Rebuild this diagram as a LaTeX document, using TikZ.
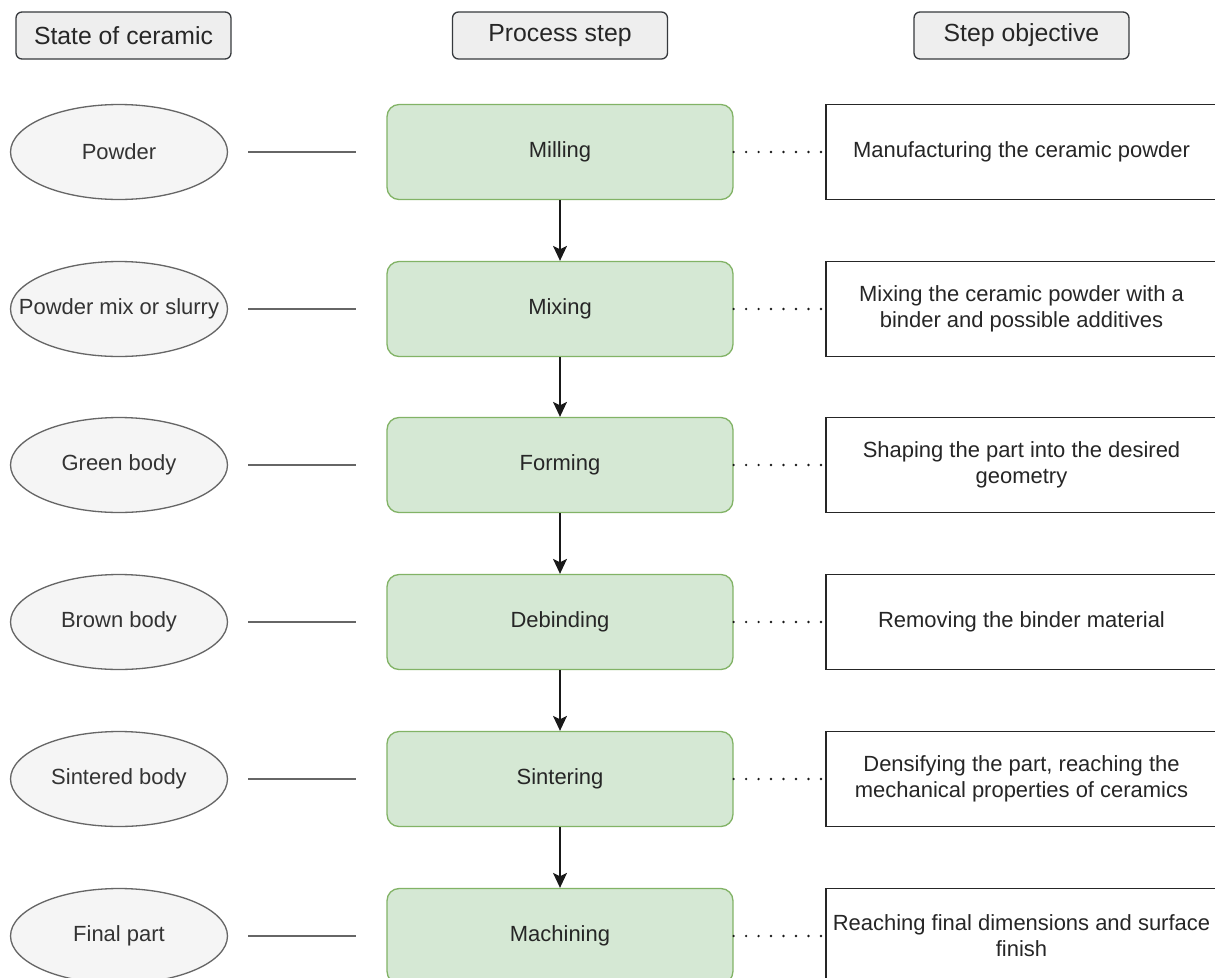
\documentclass[tikz,border=0pt]{standalone}
\usepackage{fontspec}
\setmainfont{Liberation Sans}
\usetikzlibrary{arrows.meta,shapes.geometric}
\definecolor{grisfondo}{HTML}{F5F5F5}
\definecolor{grisborde}{HTML}{666666}
\definecolor{gristexto}{HTML}{333333}
\definecolor{cabfondo}{HTML}{EEEEEE}
\definecolor{cabborde}{HTML}{36393D}
\definecolor{verdefondo}{HTML}{D5E8D4}
\definecolor{verdeborde}{HTML}{82B366}
\tikzset{
  cabecera/.style={draw=cabborde, fill=cabfondo, rounded corners=0.12cm, line width=0.75pt,
    minimum width=4.3cm, minimum height=0.94cm, font=\fontsize{14.1}{16}\selectfont, text=black!85},
  estado/.style={ellipse, draw=grisborde, fill=grisfondo, line width=0.75pt, inner sep=0pt,
    minimum width=4.34cm, minimum height=1.9cm, font=\fontsize{12.5}{14.8}\selectfont, text=gristexto},
  paso/.style={draw=verdeborde, fill=verdefondo, rounded corners=0.24cm, line width=0.75pt,
    minimum width=6.92cm, minimum height=1.9cm, font=\fontsize{12.5}{14.8}\selectfont, text=black!85},
  objetivo/.style={draw=black!85, fill=white, line width=0.75pt, align=center,
    minimum width=7.82cm, minimum height=1.9cm, font=\fontsize{12.5}{14.8}\selectfont, text=black!85},
  enlace/.style={draw=grisborde, line width=1.2pt},
  punteado/.style={draw=black!90, line width=1.5pt, line cap=round, dash pattern=on 0pt off 7.1pt},
  flecha/.style={draw=black!90, line width=0.8pt, -{Stealth[length=0.3cm, width=0.28cm, inset=0.07cm]}}
}
\begin{document}
\begin{tikzpicture}[x=0.02cm, y=-0.02cm]
    \path[use as bounding box, clip] (0,0) rectangle (1215,978);
    \fill[white] (0,0) rectangle (1215,978);
    % Cabeceras
    \node[cabecera] (cab1) at (123.5,35.5) {State of ceramic};
    \node[cabecera] (cab2) at (560,35.5) {Process step};
    \node[cabecera] (cab3) at (1021.5,35.5) {Step objective};
    % Estado de la cerámica
    \node[estado] (st1) at (119,152) {Powder};
    \node[estado] (st2) at (119,309) {\makebox[0pt]{Powder mix or slurry}};
    \node[estado] (st3) at (119,465) {Green body};
    \node[estado] (st4) at (119,622) {Brown body};
    \node[estado] (st5) at (119,779) {Sintered body};
    \node[estado] (st6) at (119,936) {Final part};
    % Pasos del proceso
    \node[paso] (ps1) at (560,152) {Milling};
    \node[paso] (ps2) at (560,309) {Mixing};
    \node[paso] (ps3) at (560,465) {Forming};
    \node[paso] (ps4) at (560,622) {Debinding};
    \node[paso] (ps5) at (560,779) {Sintering};
    \node[paso] (ps6) at (560,936) {Machining};
    % Objetivos
    \node[objetivo] (ob1) at (1021.5,152) {Manufacturing the ceramic powder};
    \node[objetivo] (ob2) at (1021.5,309) {Mixing the ceramic powder with a\\binder and possible additives};
    \node[objetivo] (ob3) at (1021.5,465) {Shaping the part into the desired\\geometry};
    \node[objetivo] (ob4) at (1021.5,622) {Removing the binder material};
    \node[objetivo] (ob5) at (1021.5,779) {Densifying the part, reaching the\\mechanical properties of ceramics};
    \node[objetivo] (ob6) at (1021.5,936) {Reaching final dimensions and surface\\finish};
    % Conexiones
    \foreach \i in {1,...,6} {
        \draw[enlace] ([xshift=0.4cm]st\i.east) -- ([xshift=-0.6cm]ps\i.west);
        \draw[punteado] (ps\i.east) -- (ob\i.west);
    }
    \foreach \i/\j in {1/2,2/3,3/4,4/5,5/6}
        \draw[flecha] (ps\i.south) -- (ps\j.north);
\end{tikzpicture}
\end{document}
